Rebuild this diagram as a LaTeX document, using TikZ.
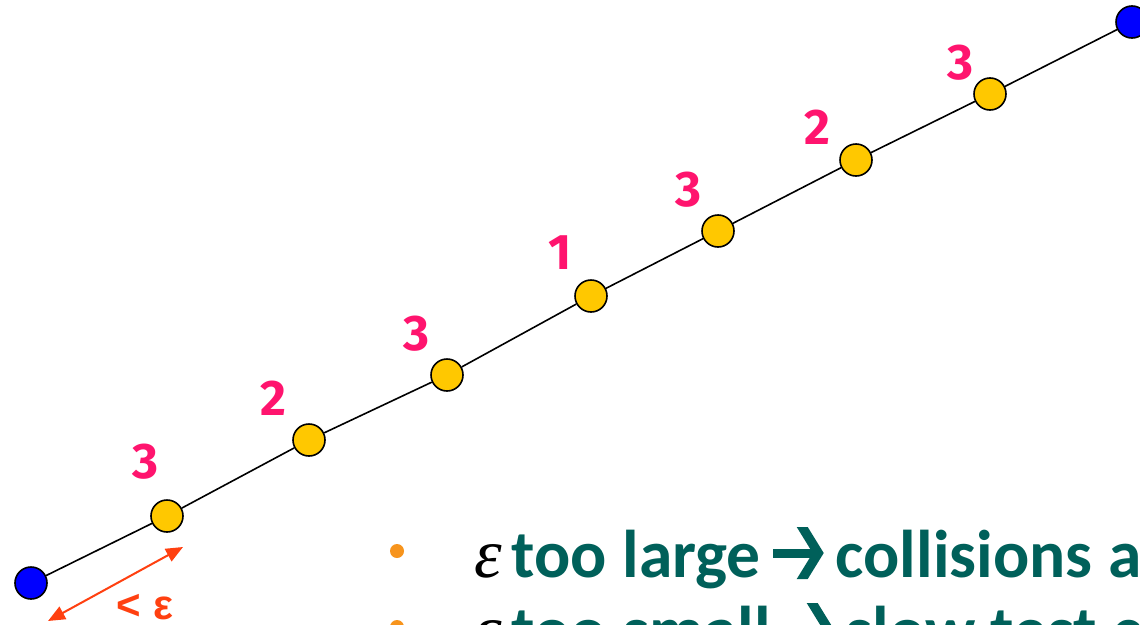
\documentclass[tikz,border=0pt]{standalone}
\usepackage{fontspec}
\newfontfamily\digitfont{Fira Sans}
\newfontfamily\bodyfont{Carlito}
\newfontfamily\epsfont{Liberation Sans}
\newfontfamily\greekital{Liberation Serif}
\usetikzlibrary{arrows.meta}
\definecolor{pinklab}{RGB}{255,20,110}
\definecolor{goldfill}{RGB}{255,200,0}
\definecolor{bluefill}{RGB}{0,0,255}
\definecolor{redarrow}{RGB}{255,64,16}
\definecolor{bulletorange}{RGB}{247,148,29}
\definecolor{tealtext}{RGB}{0,96,90}
\newcommand{\chevarrow}{\tikz[baseline=0pt,x=1pt,y=1pt]{\fill[tealtext] (0,19.5) rectangle (40,28.5); \fill[tealtext] (24,50) -- (35,50) -- (51,24) -- (35,-2) -- (24,-2) -- (40,24) -- cycle;}}
\newcommand{\epsmark}{\textcolor{black}{\greekital\mdseries\itshape\fontsize{70}{80}\selectfont ε}}
\begin{document}
\begin{tikzpicture}[x=1pt,y=-1pt,
  endpt/.style={circle,draw=black,line width=1.6pt,fill=bluefill,minimum size=32pt,inner sep=0pt},
  midpt/.style={circle,draw=black,line width=1.6pt,fill=goldfill,minimum size=32pt,inner sep=0pt},
  seg/.style={draw=black,line width=1.6pt},
  countlab/.style={text=pinklab,font=\digitfont\bfseries\fontsize{50}{58}\selectfont,inner sep=0pt},
  epsarrow/.style={draw=redarrow,line width=2pt,{Triangle[length=17pt,width=14pt]}-{Triangle[length=17pt,width=14pt]}},
  epslab/.style={text=redarrow,font=\epsfont\bfseries\fontsize{42}{50}\selectfont,inner sep=0pt},
  bulletdot/.style={circle,fill=bulletorange,minimum size=14pt,inner sep=0pt},
  bodytext/.style={text=tealtext,font=\bodyfont\bfseries\fontsize{67.5}{80}\selectfont,inner sep=0pt,anchor=base west}]
\useasboundingbox (0,0) rectangle (1140,624);
\clip (0,0) rectangle (1140,624);
\fill[white] (0,0) rectangle (1140,624);
% points
\node[endpt] (b0) at (31,583) {};
\node[midpt] (y1) at (167,516) {};
\node[midpt] (y2) at (309,440) {};
\node[midpt] (y3) at (447,375) {};
\node[midpt] (y4) at (591,296) {};
\node[midpt] (y5) at (718,231) {};
\node[midpt] (y6) at (856,160) {};
\node[midpt] (y7) at (990,94) {};
\node[endpt] (b1) at (1132,22) {};
\draw[seg] (b0) -- (y1) -- (y2) -- (y3) -- (y4) -- (y5) -- (y6) -- (y7) -- (b1);
% labels
\node[countlab] (l1) at (145,462) {3};
\node[countlab] (l2) at (273,398) {2};
\node[countlab] (l3) at (416,334) {3};
\node[countlab] (l4) at (560,253) {1};
\node[countlab] (l5) at (688,190) {3};
\node[countlab] (l6) at (817,127) {2};
\node[countlab] (l7) at (960,63) {3};
% epsilon arrow
\coordinate (ea) at (48,621);
\coordinate (eb) at (183,547);
\draw[epsarrow] (ea) -- (eb);
\node[epslab] (el) at (145,607) {< ε};
% bullets
\node[bulletdot] (d1) at (397,551) {};
\node[bulletdot] (d2) at (397,627) {};
\node[bodytext] (t1) at (474,577) {\epsmark\hspace{10pt}too large\hspace{12pt}\chevarrow\hspace{12pt}collisions a};
\node[bodytext] (t2) at (474,653) {\epsmark\hspace{10pt}too small\hspace{12pt}\chevarrow\hspace{12pt}slow test c};
\end{tikzpicture}
\end{document}
